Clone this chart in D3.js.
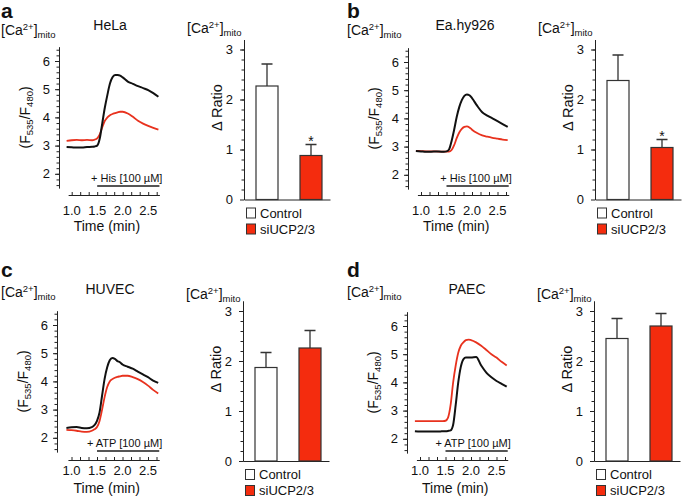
<!DOCTYPE html>
<html><head><meta charset="utf-8">
<script src="https://cdn.jsdelivr.net/npm/d3@7"></script>
<style>
body{margin:0;background:#fff}
svg{display:block}
text{font-family:"Liberation Sans",Arial,Helvetica,sans-serif;fill:#111}
</style>
</head><body><svg id="c" width="685" height="500"></svg>
<script>
// ---------- data ----------
const timePoints = [0.9,1.0,1.1,1.2,1.3,1.4,1.45,1.5,1.55,1.6,1.65,1.7,1.75,1.8,1.85,1.9,1.95,2.0,2.1,2.2,2.3,2.4,2.5,2.6,2.7];
const helaControl = [2.95,2.94,2.93,2.93,2.95,2.96,2.97,3.0,3.25,3.8,4.35,4.8,5.2,5.42,5.5,5.5,5.48,5.42,5.27,5.19,5.11,5.04,4.97,4.86,4.73];
const helaSi      = [3.17,3.19,3.2,3.19,3.2,3.19,3.21,3.26,3.4,3.65,3.88,4.0,4.08,4.12,4.15,4.18,4.2,4.2,4.14,4.02,3.88,3.78,3.7,3.63,3.57];
const eahyControl = [2.84,2.83,2.82,2.82,2.83,2.82,2.82,2.83,2.9,3.2,3.6,4.05,4.4,4.65,4.8,4.85,4.82,4.72,4.45,4.22,4.1,4.0,3.9,3.8,3.7];
const eahySi      = [2.85,2.84,2.83,2.83,2.83,2.82,2.82,2.82,2.82,2.88,3.05,3.3,3.5,3.63,3.7,3.72,3.68,3.6,3.48,3.4,3.35,3.31,3.28,3.25,3.23];
const huvecControl= [2.35,2.37,2.38,2.35,2.34,2.38,2.45,2.6,2.9,3.5,4.1,4.5,4.75,4.83,4.8,4.72,4.68,4.6,4.52,4.45,4.35,4.25,4.15,4.03,3.95];
const huvecSi     = [2.28,2.27,2.25,2.22,2.21,2.25,2.3,2.38,2.6,3.0,3.45,3.8,4.0,4.08,4.13,4.16,4.18,4.2,4.2,4.15,4.08,3.98,3.85,3.7,3.57];
const paecControl = [2.27,2.26,2.26,2.26,2.26,2.26,2.27,2.27,2.28,2.3,2.5,3.2,4.0,4.55,4.82,4.88,4.88,4.88,4.9,4.6,4.35,4.18,4.05,3.95,3.85];
const paecSi      = [2.63,2.63,2.63,2.63,2.63,2.63,2.63,2.64,2.75,3.2,4.0,4.6,5.05,5.3,5.42,5.5,5.52,5.5,5.42,5.3,5.15,5.0,4.88,4.73,4.6];

const barCategories = ["Control","siUCP2/3"];
const helaBar = [2.27,0.88];  const helaErr = [0.44,0.22];  const helaSig = [false,true];
const eahyBar = [2.38,1.04];  const eahyErr = [0.51,0.16];  const eahySig = [false,true];
const huvecBar= [1.87,2.26];  const huvecErr= [0.30,0.35];  const huvecSig= [false,false];
const paecBar = [2.45,2.70];  const paecErr = [0.40,0.25];  const paecSig = [false,false];

const lineYTicks = [2,3,4,5,6];
const xTickLabels = ["1.0","1.5","2.0","2.5"];
const barYTicks = [0,1,2,3];
const panelLetters = ["a","b","c","d"];
const cellTitles = ["HeLa","Ea.hy926","HUVEC","PAEC"];
const stimuli = ["+ His [100 \u00B5M]","+ His [100 \u00B5M]","+ ATP [100 \u00B5M]","+ ATP [100 \u00B5M]"];

// ---------- layout ----------
const RED_FILL = "#f42c0e", RED_LINE = "#e8321e", AX = "#222";
const layout = [
  {lx:0,   ax:59,  x1:71.7, y6:61,  axisY:195, tickLab:215, timeLab:231, stimY:186, titleY:30,  titleX:110, letterY:18,  caY:35,  bx:244, b0:199.5, bCaY:33},
  {lx:346, ax:408, x1:421,  y6:62,  axisY:195, tickLab:215, timeLab:231, stimY:186, titleY:30,  titleX:465, letterY:18,  caY:35,  bx:595, b0:199.5, bCaY:33},
  {lx:0,   ax:57,  x1:71.5, y6:325, axisY:460, tickLab:475, timeLab:493, stimY:451, titleY:294, titleX:110, letterY:277, caY:297, bx:243, b0:461,   bCaY:298.5},
  {lx:346, ax:407, x1:420,  y6:326, axisY:460, tickLab:475, timeLab:493, stimY:451, titleY:294, titleX:467, letterY:277, caY:297, bx:594, b0:461,   bCaY:298.5}
];
const lineSeries = [[helaControl,helaSi],[eahyControl,eahySi],[huvecControl,huvecSi],[paecControl,paecSi]];
const barSeries = [[helaBar,helaErr,helaSig],[eahyBar,eahyErr,eahySig],[huvecBar,huvecErr,huvecSig],[paecBar,paecErr,paecSig]];

const svg = d3.select("#c");

function caLabel(g, x, y) {
  const t = g.append("text").attr("x", x).attr("y", y).style("font-size","14px");
  t.append("tspan").text("[Ca");
  t.append("tspan").attr("dy",-5).style("font-size","9.5px").text("2+");
  t.append("tspan").attr("dy",5).text("]");
  t.append("tspan").attr("dy",3).style("font-size","9.5px").text("mito");
}

function styleAxis(sel) {
  sel.select(".domain").attr("stroke", AX);
  sel.selectAll(".tick line").attr("stroke", AX);
  sel.selectAll(".tick text").style("font-size","13px").style("font-family","'Liberation Sans',Arial,sans-serif").attr("fill","#111");
}

function drawLine(i) {
  const p = layout[i];
  const g = svg.append("g");
  const ppu = 28.2;
  const y = d3.scaleLinear().domain([1.5, 6.5]).range([p.y6 + 4.5*ppu, p.y6 - 0.5*ppu]);
  const x = d3.scaleLinear().domain([1.0, 2.0]).range([p.x1, p.x1 + 51]);
  const tEnd = 2.72, t0 = 0.93;

  g.append("g").attr("transform",`translate(${p.ax},0)`)
    .call(d3.axisLeft(y).tickValues(d3.range(16, 65, 2).map(v => v/10)).tickSize(2.5).tickSizeOuter(0).tickFormat(""))
    .call(styleAxis);
  g.append("g").attr("transform",`translate(${p.ax},0)`)
    .call(d3.axisLeft(y).tickValues(lineYTicks).tickSize(4).tickSizeOuter(0).tickPadding(5).tickFormat(d3.format("d")))
    .call(styleAxis);

  const xa = x.copy().domain([t0, tEnd]).range([x(t0), x(tEnd)]);
  g.append("g").attr("transform",`translate(0,${p.axisY})`)
    .call(d3.axisBottom(xa).tickValues(d3.range(0, 11).map(k => 1 + k/6)).tickSize(-3).tickSizeOuter(0).tickFormat(""))
    .call(styleAxis);
  g.selectAll(".xl").data(xTickLabels).join("text")
    .attr("x", d => x(+d)).attr("y", p.tickLab).attr("text-anchor","middle")
    .style("font-size","13px").text(d => d);
  g.append("text").attr("x", x(1.69)).attr("y", p.timeLab).attr("text-anchor","middle")
    .style("font-size","14px").text("Time (min)");

  g.append("line").attr("x1", x(1.5)).attr("x2", x(tEnd)).attr("y1", p.stimY).attr("y2", p.stimY)
    .attr("stroke","#555").attr("stroke-width",2);
  g.append("text").attr("x", x(tEnd) + 3).attr("y", p.stimY - 4).attr("text-anchor","end")
    .style("font-size","11px").text(stimuli[i]);

  const line = d3.line().x((d, k) => x(timePoints[k])).y(d => y(d)).curve(d3.curveMonotoneX);
  const [ctrl, si] = lineSeries[i];
  g.append("path").attr("d", line(si)).attr("fill","none").attr("stroke",RED_LINE).attr("stroke-width",1.8);
  g.append("path").attr("d", line(ctrl)).attr("fill","none").attr("stroke","#111").attr("stroke-width",2);

  const yl = g.append("text").attr("transform",`translate(${p.ax - 29},${y(4)}) rotate(-90)`)
    .attr("text-anchor","middle").style("font-size","14px");
  yl.append("tspan").text("(F");
  yl.append("tspan").attr("dy",3).style("font-size","9.5px").text("535");
  yl.append("tspan").attr("dy",-3).text("/F");
  yl.append("tspan").attr("dy",3).style("font-size","9.5px").text("480");
  yl.append("tspan").attr("dy",-3).text(")");

  g.append("text").attr("x", p.titleX).attr("y", p.titleY).attr("text-anchor","middle").style("font-size","14px").text(cellTitles[i]);
  g.append("text").attr("x", p.lx + 1).attr("y", p.letterY).style("font-size","21px").style("font-weight","bold").text(panelLetters[i]);
  caLabel(g, p.lx + 1, p.caY);
}

function drawBar(i) {
  const p = layout[i];
  const g = svg.append("g");
  const y = d3.scaleLinear().domain([0, 3.2]).range([p.b0, p.b0 - 160]);
  const x = d3.scaleBand().domain(barCategories).range([p.bx + 1, p.bx + 89]).paddingInner(0.5).paddingOuter(0.25);
  const [vals, errs, sig] = barSeries[i];

  g.append("g").attr("transform",`translate(${p.bx},0)`)
    .call(d3.axisLeft(y).tickValues(d3.range(2, 32, 2).map(v => v/10)).tickSize(2.5).tickSizeOuter(0).tickFormat(""))
    .call(styleAxis);
  g.append("g").attr("transform",`translate(${p.bx},0)`)
    .call(d3.axisLeft(y).tickValues(barYTicks).tickSize(4).tickSizeOuter(0).tickPadding(7).tickFormat(d3.format("d")))
    .call(styleAxis);
  g.append("g").attr("transform",`translate(0,${p.b0})`)
    .call(d3.axisBottom(x.copy().range([p.bx, p.bx + 86])).tickSize(0).tickSizeOuter(0).tickFormat(""))
    .call(styleAxis);

  g.selectAll(".err").data(barCategories).join("path")
    .attr("d", (c, k) => {
      const cx = x(c) + x.bandwidth()/2, top = y(vals[k] + errs[k]);
      return `M${cx},${y(vals[k])}V${top}M${cx - 5.5},${top}H${cx + 5.5}`;
    })
    .attr("stroke","#333").attr("stroke-width",1.3).attr("fill","none");
  g.selectAll(".bar").data(barCategories).join("rect")
    .attr("x", c => x(c)).attr("width", x.bandwidth())
    .attr("y", (c, k) => y(vals[k])).attr("height", (c, k) => p.b0 - y(vals[k]))
    .attr("fill", (c, k) => k === 0 ? "#fff" : RED_FILL).attr("stroke","#333").attr("stroke-width",1.2);
  g.selectAll(".sig").data(barCategories.filter((c, k) => sig[k])).join("text")
    .attr("x", c => x(c) + x.bandwidth()/2)
    .attr("y", c => { const k = barCategories.indexOf(c); return y(vals[k] + errs[k]) + 1; })
    .attr("text-anchor","middle").style("font-size","14px").text("*");

  g.append("text").attr("transform",`translate(${p.bx - 22},${p.b0 - 92}) rotate(-90)`)
    .attr("text-anchor","middle").style("font-size","14.5px").text("\u0394 Ratio");
  caLabel(g, p.bx - 57, p.bCaY);

  const lg = g.append("g");
  barCategories.forEach((c, k) => {
    lg.append("rect").attr("x", p.bx + 2.5).attr("y", p.b0 + 8.5 + k*16).attr("width", 9).attr("height", 10)
      .attr("fill", k === 0 ? "#fff" : RED_FILL).attr("stroke","#333").attr("stroke-width",1);
    lg.append("text").attr("x", p.bx + 16).attr("y", p.b0 + 18 + k*16).style("font-size","13px").text(c);
  });
}

for (let i = 0; i < 4; i++) { drawLine(i); drawBar(i); }
</script>
</body></html>
